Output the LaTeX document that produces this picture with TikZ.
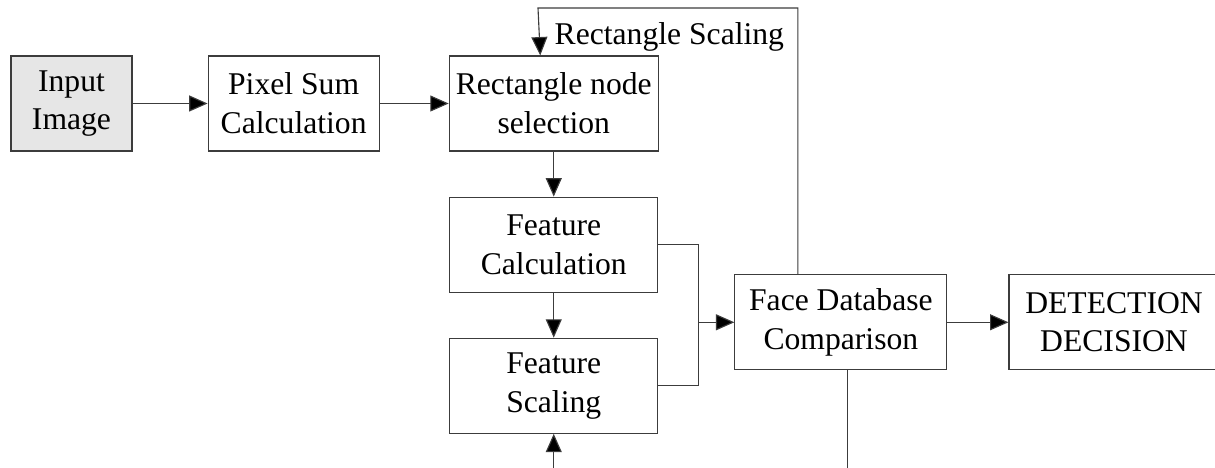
\documentclass[tikz,border=0pt]{standalone}
\usepackage{fontspec}
\setmainfont{Liberation Serif}
\usepackage{xcolor}
\definecolor{fdline}{RGB}{60,60,60}
\definecolor{fdgray}{RGB}{230,230,230}
\usetikzlibrary{arrows.meta, positioning}

\begin{document}
\begin{tikzpicture}[
  node distance=1.125cm and 1.8cm,
  flowbox/.style={rectangle, draw=fdline, line width=0.8pt, minimum height=2.375cm,
               align=center, inner sep=2pt, font=\fontsize{22.5}{27.5}\selectfont},
  inbox/.style={flowbox, fill=fdgray},
  arr/.style={-{Triangle[length=0.46cm, width=0.4cm, fill=black]}, line width=0.8pt, color=fdline},
  lnk/.style={line width=0.8pt, color=fdline},
  lbl/.style={font=\fontsize{22.5}{27.5}\selectfont, text=black, inner sep=0pt}
]
  \useasboundingbox (0,0) rectangle (30.375,-11.7);

  \node[inbox, minimum width=3.025cm] (img) at (1.7875,-2.5875) {Input\\Image};
  \node[flowbox, minimum width=4.275cm, right=1.875cm of img] (pxsum) {Pixel Sum\\Calculation};
  \node[flowbox, minimum width=5.225cm, right=1.725cm of pxsum] (rsel) {Rectangle node\\selection};
  \node[flowbox, minimum width=5.2cm, below=of rsel] (fcalc) {Feature\\Calculation};
  \node[flowbox, minimum width=5.2cm, below=of fcalc] (fscale) {Feature\\Scaling};
  \node[flowbox, minimum width=5.3cm, below right=0.74cm and 1.9cm of fcalc.east] (face)
    {Face Database\\Comparison};
  \node[flowbox, minimum width=5.25cm, right=1.525cm of face] (decide) {DETECTION\\DECISION};

  % loose ends and bends
  \coordinate (looptop) at (13.45,-0.2);
  \coordinate (floor) at (0,-11.7);
  \coordinate (join) at ([xshift=-0.9cm]face.west);

  \draw[arr] (img) -- (pxsum);
  \draw[arr] (pxsum) -- (rsel);
  \draw[arr] (rsel) -- (fcalc);
  \draw[arr] (fcalc) -- (fscale);
  \draw[arr] (fscale.south |- floor) -- (fscale);
  \draw[lnk] (fcalc.east) -| (join) |- (fscale.east);
  \draw[arr] (join) -- (face);
  \draw[arr] (face) -- (decide);
  \draw[arr] ([xshift=-1.075cm]face.north) |- (looptop)
    -- node[pos=0.6, right=0.37cm, lbl] {Rectangle Scaling} ([xshift=-0.3375cm]rsel.north);
  \draw[lnk] ([xshift=0.175cm]face.south) -- ([xshift=0.175cm]face.south |- floor);
\end{tikzpicture}
\end{document}
